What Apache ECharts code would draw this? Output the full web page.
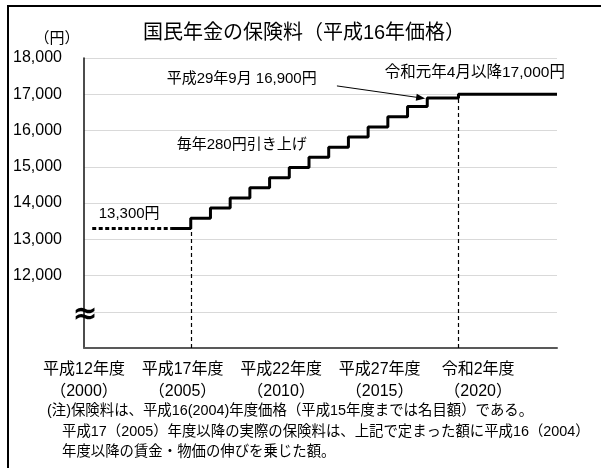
<!DOCTYPE html>
<html>
<head>
<meta charset="utf-8">
<script src="https://cdn.jsdelivr.net/npm/echarts@6/dist/echarts.min.js"></script>
<style>
  html, body { margin: 0; padding: 0; background: #fff; }
  #chart { width: 601px; height: 468px; }
</style>
</head>
<body>
<div id="chart"></div>
<script>
// 国民年金の保険料（平成16年価格）: fixed schedule of the monthly premium
const FONT = "'Liberation Sans', 'Noto Sans CJK JP', sans-serif";

// Nominal premium before the 2004 reform (drawn dotted)
const dottedDates = ['2000-09', '2004-09'];
const dottedValues = [13300, 13300];

// Stepwise schedule: +280 yen each fiscal year, 16,900 from Sep 2017, 17,000 from Apr 2019
const stepDates = ['2004-09', '2005-09', '2006-09', '2007-09', '2008-09', '2009-09', '2010-09',
  '2011-09', '2012-09', '2013-09', '2014-09', '2015-09', '2016-09', '2017-09', '2019-04', '2024-04'];
const stepValues = [13300, 13580, 13860, 14140, 14420, 14700, 14980,
  15260, 15540, 15820, 16100, 16380, 16660, 16900, 17000, 17000];

// Vertical reference lines: start of the increases and the final level
const guideDates = ['2005-09', '2019-04'];
const guideValues = [13300, 17000];

// Horizontal axis tick labels (fiscal years)
const eraLabels = ['平成12年度', '平成17年度', '平成22年度', '平成27年度', '令和2年度'];
const yearLabels = ['2000', '2005', '2010', '2015', '2020'];

// Months counted from April 2000 (start of fiscal year 2000)
function monthIndex(ym) {
  const [y, m] = ym.split('-').map(Number);
  return (y - 2000) * 12 + (m - 4);
}
const pairs = (dates, vals) => dates.map((d, i) => [monthIndex(d), vals[i]]);

const chart = echarts.init(document.getElementById('chart'), null, { renderer: 'canvas' });

const textStyle = (size) => ({ color: '#000', fontSize: size, fontFamily: FONT });

const note = (coord, text, size) => ({
  coord, symbolSize: 1, itemStyle: { color: 'rgba(0,0,0,0)' },
  label: { show: true, position: 'inside', formatter: text, ...textStyle(size || 15) }
});

const option = {
  backgroundColor: '#fff',
  animation: false,
  grid: { left: 84, right: 44, top: 58, bottom: 120 },
  xAxis: {
    type: 'value', min: 0, max: 288, interval: 60,
    axisLine: { show: true, onZero: false, lineStyle: { color: '#595959', width: 2 } },
    axisTick: { show: false },
    splitLine: { show: false },
    axisLabel: {
      showMaxLabel: false,
      margin: 11, lineHeight: 22, ...textStyle(16),
      formatter: (v) => {
        const i = Math.round(v / 60);
        return i < eraLabels.length ? eraLabels[i] + '\n（' + yearLabels[i] + '）' : '';
      }
    }
  },
  yAxis: {
    type: 'value', min: 10000, max: 18000, interval: 1000,
    axisLine: { show: true, lineStyle: { color: '#111', width: 1.5 } },
    axisTick: { show: false },
    splitLine: { show: true, lineStyle: { color: '#d9d9d9', width: 1 } },
    axisLabel: {
      align: 'left', margin: 71, ...textStyle(16),
      formatter: (v) => (v >= 12000 ? v.toLocaleString('en-US') : '')
    }
  },
  series: [
    {
      name: 'dotted', type: 'line', data: pairs(dottedDates, dottedValues),
      symbol: 'none', silent: true,
      lineStyle: { color: '#000', width: 3, type: [4, 2.5], cap: 'butt' },
      markLine: {
        silent: true, symbol: ['none', 'triangle'], symbolSize: [7, 9],
        label: { show: false },
        lineStyle: { color: '#000', width: 1, type: 'solid' },
        data: [[{ coord: [154, 17230] }, { coord: [205, 16900] }]]
      }
    },
    {
      name: 'premium', type: 'line', data: pairs(stepDates, stepValues),
      step: 'end', symbol: 'none', silent: true,
      lineStyle: { color: '#000', width: 3 },
      markLine: {
        silent: true, symbol: ['none', 'none'],
        label: { show: false },
        lineStyle: { color: '#000', width: 1.2, type: [4, 3] },
        data: guideDates.map((d, i) => [
          { coord: [monthIndex(d), 10000] },
          { coord: [monthIndex(d), guideValues[i]] }
        ])
      },
      markPoint: {
        silent: true, symbol: 'rect',
        data: [
          note([96, 17420], '平成29年9月 16,900円'),
          note([238, 17590], '令和元年4月以降17,000円', 15.5),
          note([96, 15600], '毎年280円引き上げ'),
          note([27.5, 13700], '13,300円'),
          {
            coord: [0, 11000], symbolSize: 1, itemStyle: { color: 'rgba(0,0,0,0)' },
            label: { show: true, position: 'inside', formatter: '≈', offset: [1, 3],
              color: '#000', fontSize: 30, fontWeight: 'bold', fontFamily: "'DejaVu Sans', sans-serif" }
          }
        ]
      }
    }
  ],
  graphic: [
    { type: 'rect', silent: true, shape: { x: 8, y: 6, width: 700, height: 600 },
      style: { fill: 'none', stroke: '#000', lineWidth: 2 } },
    { type: 'text', x: 304, y: 33, silent: true,
      style: { text: '国民年金の保険料（平成16年価格）', align: 'center', verticalAlign: 'middle', ...textStyle(20), fill: '#000' } },
    { type: 'text', x: 57, y: 39, silent: true,
      style: { text: '（円）', align: 'center', verticalAlign: 'middle', ...textStyle(15), fill: '#000' } },
    { type: 'text', x: 47, y: 411, silent: true,
      style: { text: '(注)保険料は、平成16(2004)年度価格（平成15年度までは名目額）である。', verticalAlign: 'middle', ...textStyle(14.4), fill: '#000' } },
    { type: 'text', x: 62, y: 432, silent: true,
      style: { text: '平成17（2005）年度以降の実際の保険料は、上記で定まった額に平成16（2004）', verticalAlign: 'middle', ...textStyle(14.4), fill: '#000' } },
    { type: 'text', x: 62, y: 452, silent: true,
      style: { text: '年度以降の賃金・物価の伸びを乗じた額。', verticalAlign: 'middle', ...textStyle(14.4), fill: '#000' } }
  ]
};

chart.setOption(option);
</script>
</body>
</html>
